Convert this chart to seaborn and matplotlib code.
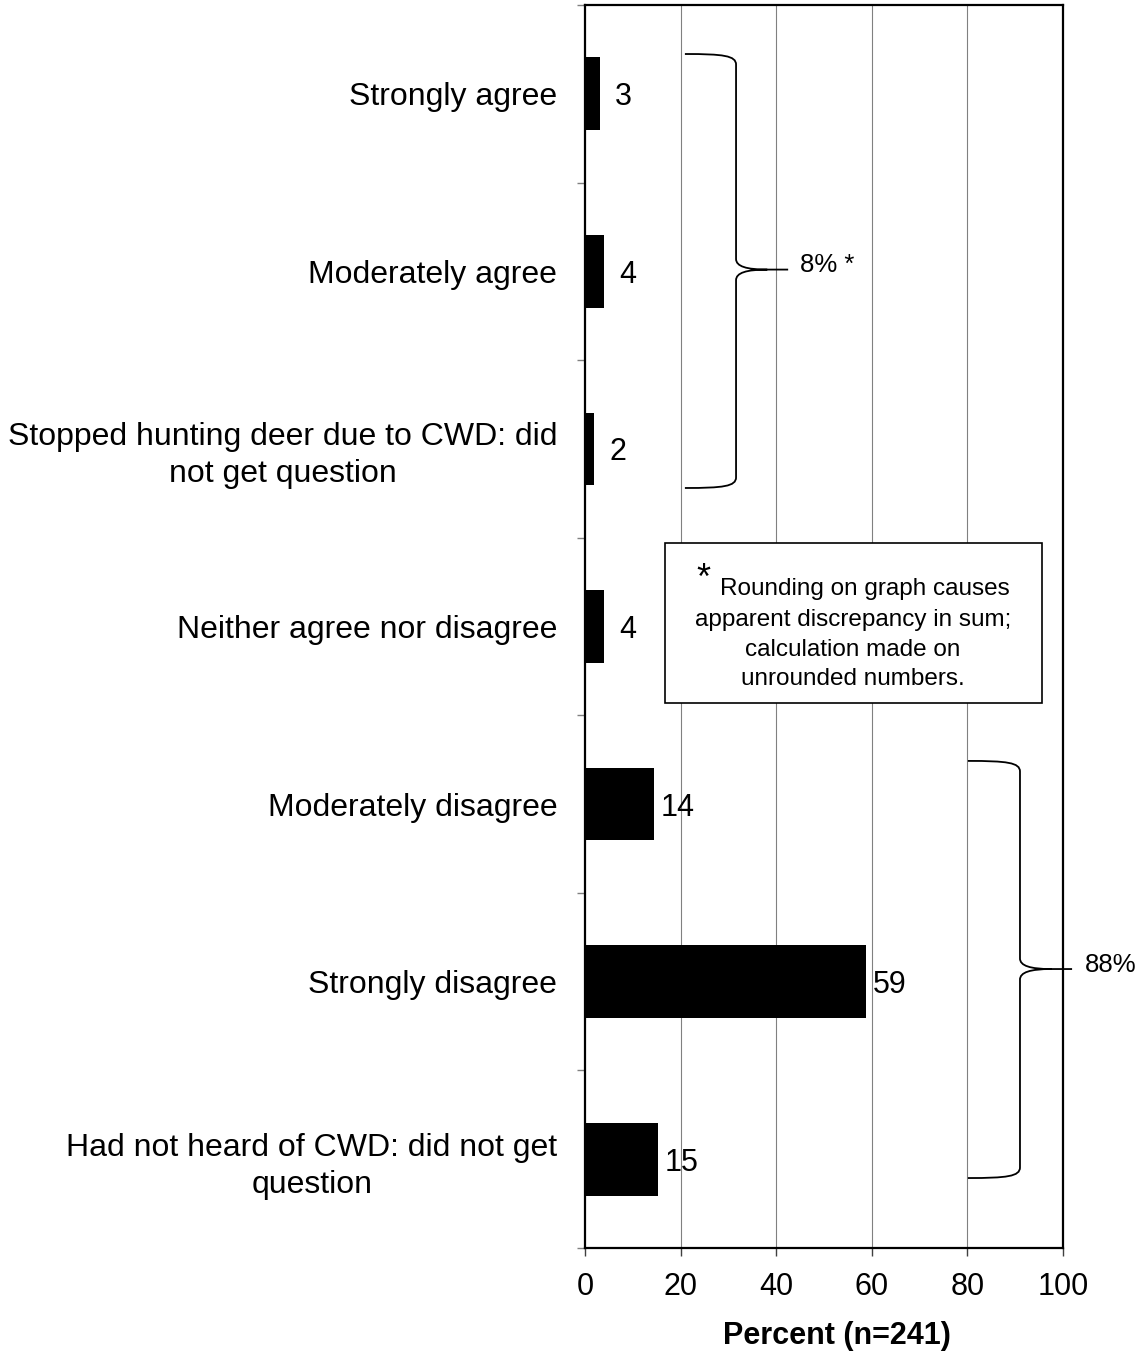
import numpy as np
import pandas as pd
import matplotlib
matplotlib.use("Agg")
import matplotlib.pyplot as plt
from matplotlib.path import Path
from matplotlib.patches import PathPatch, Rectangle
import seaborn as sns

# ---- data ----
categories = [
    "Strongly agree",
    "Moderately agree",
    "Stopped hunting deer due to CWD: did\nnot get question",
    "Neither agree nor disagree",
    "Moderately disagree",
    "Strongly disagree",
    "Had not heard of CWD: did not get\nquestion",
]
percent_values = [3.1, 4.0, 1.9, 4.0, 14.4, 58.8, 15.3]
value_labels = ["3", "4", "2", "4", "14", "59", "15"]
x_ticks = [0, 20, 40, 60, 80, 100]
x_label = "Percent (n=241)"
brace_labels = ["8% *", "88%"]
note_lines = ["Rounding on graph causes", "apparent discrepancy in sum;",
              "calculation made on", "unrounded numbers."]

sns.set_theme(style="white")
plt.rcParams["font.family"] = ["Liberation Sans", "DejaVu Sans"]
plt.rcParams["text.color"] = "black"
plt.rcParams["axes.labelcolor"] = "black"
plt.rcParams["xtick.color"] = "black"
plt.rcParams["ytick.color"] = "black"

W, H = 1143, 1353
fig = plt.figure(figsize=(W / 100, H / 100), dpi=100)
ax = fig.add_axes([585 / W, 1 - 1248 / H, 478 / W, 1243 / H])

df = pd.DataFrame({"cat": categories, "pct": percent_values})
sns.barplot(data=df, y="cat", x="pct", orient="h", color="black",
            saturation=1, width=0.41, ax=ax, edgecolor="black", linewidth=0)

ax.set_xlim(0, 100)
ax.set_ylim(6.5, -0.5)
ax.set_xticks(x_ticks)
ax.set_xticklabels([str(t) for t in x_ticks], fontsize=22, color="black")
ax.tick_params(axis="x", which="major", direction="out", length=6, width=1,
               color="#404040", pad=11, bottom=True)

ax.set_yticks(np.arange(-0.5, 7, 1))
ax.set_yticklabels([])
ax.set_yticks(range(len(categories)), minor=True)
ax.set_yticklabels(categories, minor=True, fontsize=23, color="black")
ax.tick_params(axis="y", which="major", direction="out", length=6, width=1,
               color="#808080", left=True)
ax.tick_params(axis="y", which="minor", length=0, pad=20, left=True)
for lbl in ax.get_yticklabels(minor=True):
    lbl.set_multialignment("center")
    lbl.set_linespacing(1.3)

ax.set_ylabel("")
ax.set_xlabel(x_label, fontsize=22, fontweight="bold", color="black")
ax.xaxis.set_label_coords(0.527, -0.0705)
ax.xaxis.label.set_va("center")

for x in x_ticks[1:-1]:
    ax.axvline(x, color="#808080", lw=0.8, zorder=0)

for s in ax.spines.values():
    s.set_visible(True)
    s.set_color("black")
    s.set_linewidth(1.6)

# value labels
for i, (v, t) in enumerate(zip(percent_values, value_labels)):
    ax.annotate(t, xy=(v, i), xytext=(17, 0), textcoords="offset points",
                ha="center", va="center_baseline", fontsize=22, color="black")


def brace(x0, xm, xt, y0, y1, ym, r=0.06):
    d = xt - xm
    verts = [
        (x0, y0),
        (x0 + 0.75 * (xm - x0), y0), (xm, y0 + 0.15 * r), (xm, y0 + r),
        (xm, ym - r),
        (xm, ym - 0.3 * r), (xm + 0.2 * d, ym), (xm + 0.6 * d, ym),
        (xt, ym),
        (xm + 0.6 * d, ym),
        (xm + 0.2 * d, ym), (xm, ym + 0.3 * r), (xm, ym + r),
        (xm, y1 - r),
        (xm, y1 - 0.15 * r), (x0 + 0.75 * (xm - x0), y1), (x0, y1),
    ]
    codes = [Path.MOVETO,
             Path.CURVE4, Path.CURVE4, Path.CURVE4,
             Path.LINETO,
             Path.CURVE4, Path.CURVE4, Path.CURVE4,
             Path.LINETO,
             Path.MOVETO,
             Path.CURVE4, Path.CURVE4, Path.CURVE4,
             Path.LINETO,
             Path.CURVE4, Path.CURVE4, Path.CURVE4]
    p = PathPatch(Path(verts, codes), fill=False, lw=1.3, color="black",
                  clip_on=False, zorder=5)
    ax.add_patch(p)


brace(20.9, 31.6, 42.5, -0.224, 2.22, 0.99)
ax.text(45.0, 0.965, brace_labels[0], fontsize=18.5, ha="left", va="center")
brace(80.1, 91.0, 101.9, 3.757, 6.106, 4.929)
ax.text(104.6, 4.906, brace_labels[1], fontsize=18.5, ha="left", va="center",
        clip_on=False)

# note box
ax.add_patch(Rectangle((16.7, 2.529), 78.9, 0.901, fill=True, facecolor="white",
                       edgecolor="black", lw=1.2, zorder=6))
ax.text(24.8, 2.735, "*", fontsize=26, ha="center", va="center", zorder=7)
ax.text(58.6, 2.79, note_lines[0], fontsize=17.5, ha="center", va="center", zorder=7)
ax.text(56.0, 2.966, note_lines[1], fontsize=17.5, ha="center", va="center", zorder=7)
ax.text(56.0, 3.132, note_lines[2], fontsize=17.5, ha="center", va="center", zorder=7)
ax.text(56.0, 3.296, note_lines[3], fontsize=17.5, ha="center", va="center", zorder=7)

fig.savefig("out.png", dpi=100)
